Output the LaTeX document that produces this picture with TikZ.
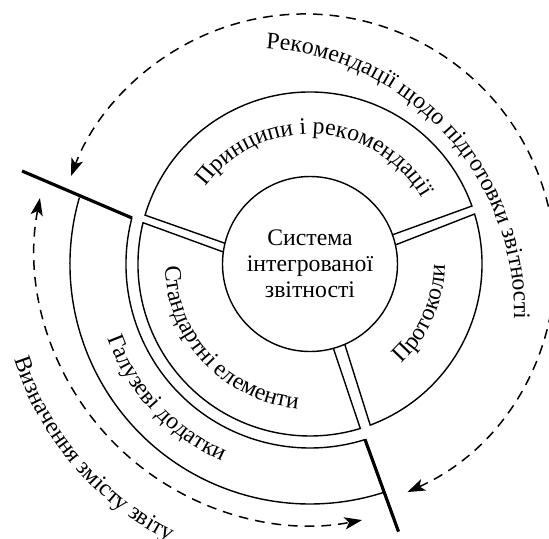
\documentclass[tikz,border=0pt]{standalone}
\usepackage{fontspec}
\setmainfont{Liberation Serif}
\usetikzlibrary{arrows.meta,decorations.text}
\newcommand\lbl{\fontsize{13.5}{14.8}\selectfont}

\begin{document}
\begin{tikzpicture}[
  ring/.style={line width=0.8pt},
  cutline/.style={line width=1.8pt},
  flow/.style={line width=0.85pt, dash pattern=on 5.5pt off 4pt,
    {Stealth[length=10pt,width=7pt,inset=2.5pt]}-{Stealth[length=10pt,width=7pt,inset=2.5pt]}},
  curved/.style={decorate, decoration={text along path, text align=center, text={|\lbl|#1}}}
]
\useasboundingbox (-6.2,-5.48) rectangle (4.78,5.28);
\node[circle, draw, ring, minimum size=3.5cm, inner sep=0pt, align=center, font=\lbl] (core) at (0,0) {Система\\інтегрованої\\звітності};
\draw[ring] (166.3:1.75) -- (163.5:3.44) arc (163.5:19.7:3.44) -- (19.5:1.75);
\draw[ring] (172.1:1.75) -- (166.1:3.44) arc (166.1:287:3.44) -- (285.5:1.75);
\draw[ring] (-66.6:1.75) -- (-69.5:3.44) arc (-69.5:16.9:3.44) -- (12.6:1.75);
\draw[ring] (165.5:3.68) arc (165.5:287.4:3.68);
\draw[ring] (163.9:4.8) arc (163.9:287.9:4.8);
\coordinate (topcutin) at (165.5:3.676);
\coordinate (topcutout) at (162.1:6.052);
\coordinate (lowcutin) at (-72.6:3.674);
\coordinate (lowcutout) at (-71.7:5.638);
\draw[cutline] (topcutin) -- (topcutout);
\draw[cutline] (lowcutin) -- (lowcutout);
\draw[flow, shift={(-0.1,0)}] (-65.8:5) arc (-65.8:159.4:5);
\draw[flow, shift={(0,0.28)}] (169.1:5.5) arc (169.1:280.9:5.5);
\path[curved={Принципи і рекомендації}] (157:2.6) arc (157:17:2.6);
\path[curved={Протоколи}] (-60:2.7) arc (-60:12:2.7);
\path[curved={Стандартні елементи}] (170:2.9) arc (170:276:2.9);
\path[curved={Галузеві додатки}] (188:4.32) arc (188:258:4.32);
\path[curved={Визначення змісту звіту}] (185:6.22) arc (185:256:6.22);
\path[curved={Рекомендації щодо підготовки звітності}, shift={(-1.2,-0.96)}] (95:5.28) arc (95:-10:5.28);
\end{tikzpicture}
\end{document}
